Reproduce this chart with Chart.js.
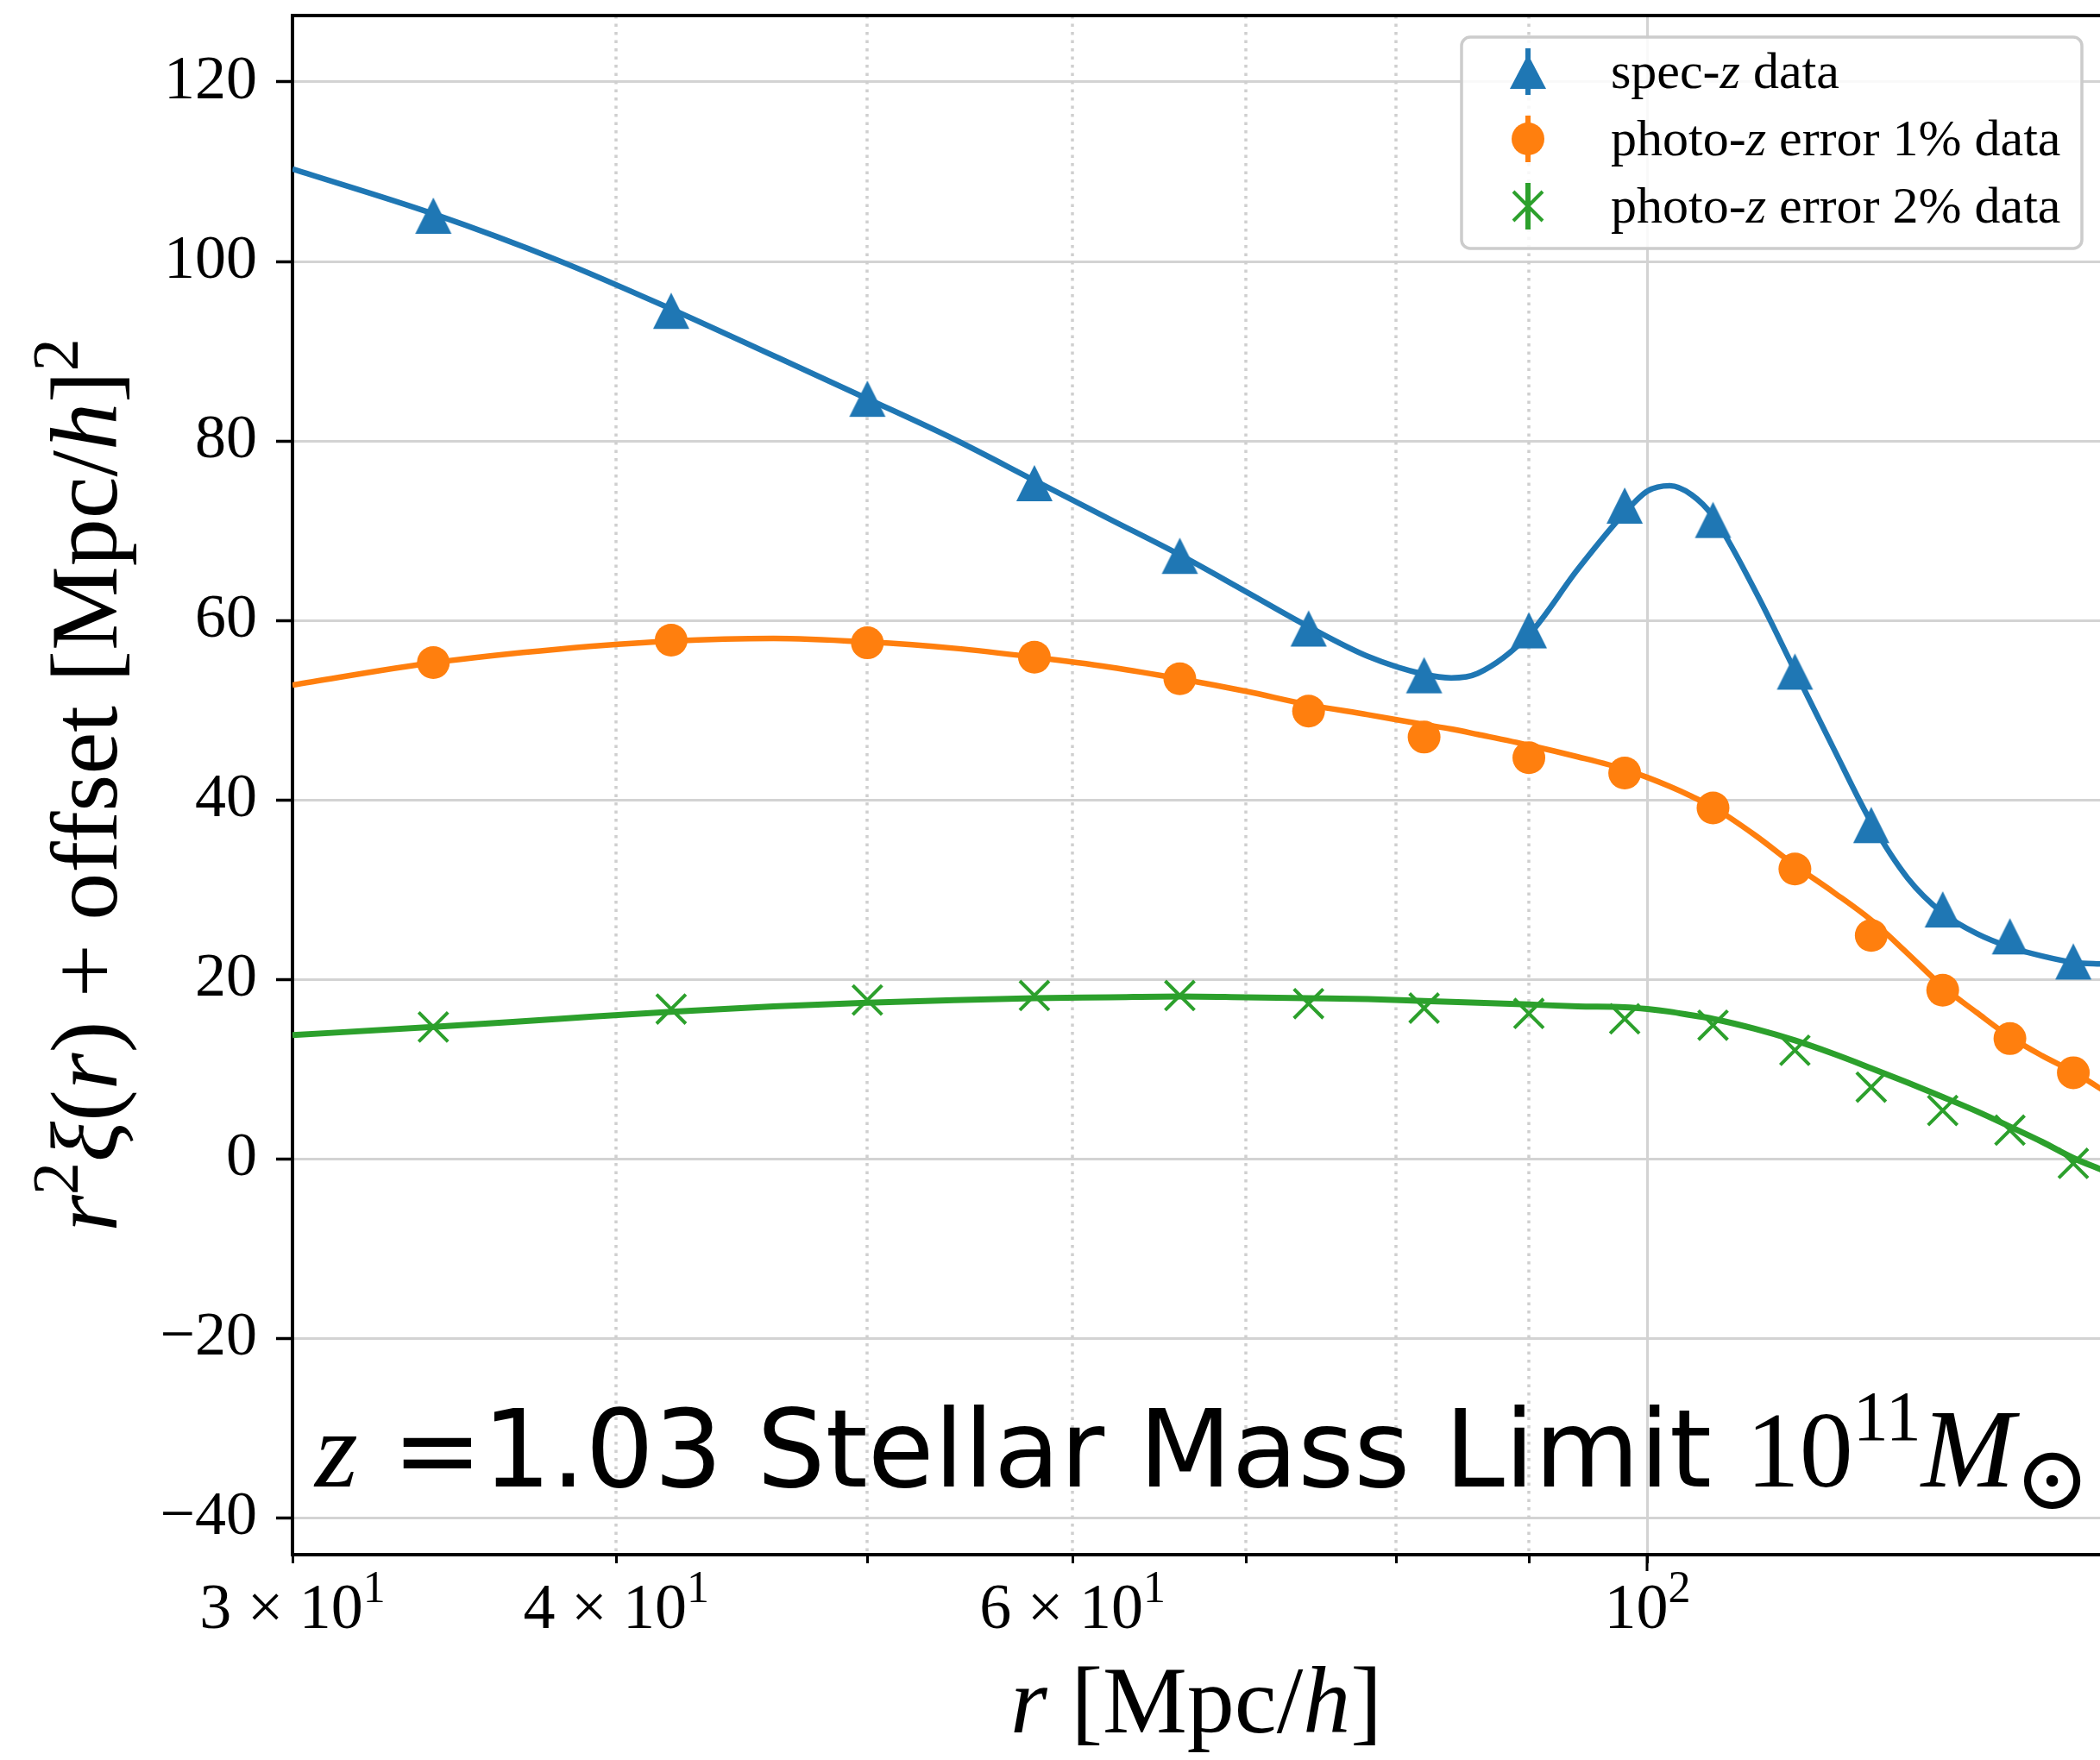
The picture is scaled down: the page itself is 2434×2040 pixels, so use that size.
<!DOCTYPE html>
<html>
<head>
<meta charset="utf-8">
<script src="https://cdn.jsdelivr.net/npm/chart.js@4.4.1/dist/chart.umd.min.js"></script>
<style>
  html, body { margin: 0; padding: 0; background: #fff; overflow: hidden; }
  canvas { display: block; }
</style>
</head>
<body>
<canvas id="xiChart" width="2434" height="2040"></canvas>
<script>
// measured points (r in Mpc/h)
const rData = [34, 42, 50, 58, 66, 74, 82, 90, 98, 106, 114, 122, 130, 138, 146];
const specData = [105.1, 94.5, 84.7, 75.3, 67.2, 59.1, 53.9, 58.9, 72.8, 71.2, 54.3, 37.2, 27.8, 24.8, 22.0];
const photo1Data = [55.3, 57.8, 57.5, 55.9, 53.5, 49.9, 47.0, 44.7, 43.0, 39.1, 32.3, 24.9, 18.8, 13.4, 9.6];
const photo2Data = [14.7, 16.7, 17.7, 18.2, 18.2, 17.3, 16.8, 16.2, 15.6, 14.9, 12.1, 8.0, 5.4, 3.2, -0.5];

// model curves
const rModel = [30, 34, 38, 42, 46, 50, 54, 58, 62, 66, 70, 74, 78, 82, 84, 86, 90, 94, 98, 100, 102, 104, 106, 110, 114, 118, 122, 126, 130, 134, 138, 142, 146, 150];
const specModel = [110.3, 105.3, 100.1, 94.7, 89.5, 84.7, 80.2, 75.6, 71.3, 67.3, 63.2, 59.3, 56.0, 54.0, 53.6, 54.1, 58.4, 65.7, 72.0, 74.4, 75.0, 74.0, 71.6, 63.4, 54.4, 45.7, 37.5, 31.3, 27.4, 25.1, 23.6, 22.6, 21.9, 21.7];
const photo1Model = [52.8, 55.3, 56.8, 57.7, 58.0, 57.6, 56.9, 55.9, 54.8, 53.5, 52.1, 50.6, 49.5, 48.4, 47.9, 47.3, 46.1, 44.8, 43.4, 42.5, 41.5, 40.4, 39.2, 36.1, 32.7, 29.7, 26.6, 22.9, 19.2, 16.3, 13.6, 11.5, 9.7, 7.6];
const photo2Model = [13.8, 14.7, 15.6, 16.4, 17.0, 17.4, 17.7, 17.9, 18.0, 18.1, 18.0, 17.9, 17.8, 17.6, 17.5, 17.4, 17.2, 17.0, 16.9, 16.7, 16.4, 16.0, 15.6, 14.5, 13.2, 11.7, 10.1, 8.5, 6.9, 5.3, 3.6, 1.9, 0.1, -1.3];

const xTickValues = [30, 40, 50, 60, 70, 80, 90, 100];
const xTickLabels = { 30: ["3 \u00d7 10", "1"], 40: ["4 \u00d7 10", "1"], 60: ["6 \u00d7 10", "1"], 100: ["10", "2"] };
const yTickValues = [-40, -20, 0, 20, 40, 60, 80, 100, 120];

const blue = "#1f77b4";
const orange = "#ff7f0e";
const green = "#2ca02c";
const gridGray = "#d3d3d3";
const serif = '"Liberation Serif", "DejaVu Serif", serif';
const sans = '"DejaVu Sans", sans-serif';

function toPoints(xs, ys) {
  return xs.map((x, i) => ({ x: x, y: ys[i] }));
}

// matplotlib-style "^" marker (width == height, centred on its box)
function triangleImage(size, color) {
  const c = document.createElement("canvas");
  c.width = size + 2;
  c.height = size + 2;
  const g = c.getContext("2d");
  g.fillStyle = color;
  g.beginPath();
  g.moveTo(c.width / 2, 1);
  g.lineTo(1, size + 1);
  g.lineTo(size + 1, size + 1);
  g.closePath();
  g.fill();
  return c;
}

function drawRuns(ctx, runs, x, y, align) {
  let total = 0;
  runs.forEach((r) => {
    ctx.font = r[1];
    total += ctx.measureText(r[0]).width;
  });
  let cur = align === "center" ? x - total / 2 : x;
  ctx.textAlign = "left";
  ctx.textBaseline = "alphabetic";
  runs.forEach((r) => {
    ctx.font = r[1];
    ctx.fillText(r[0], cur, y + (r[2] || 0));
    cur += ctx.measureText(r[0]).width;
  });
}

function drawLegendMarker(ctx, kind, x, y, color) {
  ctx.save();
  ctx.fillStyle = color;
  ctx.strokeStyle = color;
  ctx.fillRect(x - 3, y - 27, 6, 54);
  if (kind === "triangle") {
    ctx.beginPath();
    ctx.moveTo(x, y - 20);
    ctx.lineTo(x - 21, y + 20);
    ctx.lineTo(x + 21, y + 20);
    ctx.closePath();
    ctx.fill();
  } else if (kind === "circle") {
    ctx.beginPath();
    ctx.arc(x, y, 19, 0, Math.PI * 2);
    ctx.fill();
  } else {
    ctx.lineWidth = 4;
    ctx.beginPath();
    ctx.moveTo(x - 17, y - 17);
    ctx.lineTo(x + 17, y + 17);
    ctx.moveTo(x + 17, y - 17);
    ctx.lineTo(x - 17, y + 17);
    ctx.stroke();
  }
  ctx.restore();
}

function noPadding(scale) {
  scale.paddingTop = 0;
  scale.paddingBottom = 0;
  scale.paddingLeft = 0;
  scale.paddingRight = 0;
}

const decorations = {
  id: "decorations",
  beforeDatasetsDraw(chart) {
    const { ctx, chartArea } = chart;
    const xs = chart.scales.x;
    ctx.save();
    ctx.strokeStyle = "#cfcfcf";
    ctx.lineWidth = 3.5;
    ctx.setLineDash([3.5, 6]);
    xTickValues.filter((v) => v !== 30 && v !== 100).forEach((v) => {
      const px = Math.round(xs.getPixelForValue(v));
      ctx.beginPath();
      ctx.moveTo(px, chartArea.top);
      ctx.lineTo(px, chartArea.bottom);
      ctx.stroke();
    });
    ctx.restore();
  },
  afterDraw(chart) {
    const { ctx, chartArea } = chart;
    const xs = chart.scales.x;
    ctx.save();
    ctx.fillStyle = "#000";
    ctx.strokeStyle = "#000";

    // top spine
    ctx.lineWidth = 4;
    ctx.beginPath();
    ctx.moveTo(chartArea.left - 2, chartArea.top);
    ctx.lineTo(chartArea.right, chartArea.top);
    ctx.stroke();

    // longer major tick at 10^2
    ctx.lineWidth = 3;
    const p100 = Math.round(xs.getPixelForValue(100));
    ctx.beginPath();
    ctx.moveTo(p100, chartArea.bottom);
    ctx.lineTo(p100, chartArea.bottom + 19);
    ctx.stroke();

    // x tick labels
    Object.keys(xTickLabels).forEach((k) => {
      const lab = xTickLabels[k];
      drawRuns(ctx, [[lab[0], `74px ${serif}`], [lab[1], `52px ${serif}`, -30]], xs.getPixelForValue(+k), 1887, "center");
    });

    // x title
    drawRuns(ctx, [
      ["r", `italic 110px ${serif}`],
      [" [Mpc/", `110px ${serif}`],
      ["h", `italic 110px ${serif}`],
      ["]", `110px ${serif}`],
    ], (chartArea.left + chartArea.right) / 2, 2008, "center");

    // y title
    ctx.save();
    ctx.translate(135, (chartArea.top + chartArea.bottom) / 2);
    ctx.rotate(-Math.PI / 2);
    drawRuns(ctx, [
      ["r", `italic 110px ${serif}`],
      ["2", `76px ${serif}`, -45],
      ["\u03be", `italic 110px ${serif}`],
      ["(", `110px ${serif}`],
      ["r", `italic 110px ${serif}`],
      [") + offset [Mpc/", `110px ${serif}`],
      ["h", `italic 110px ${serif}`],
      ["]", `110px ${serif}`],
      ["2", `76px ${serif}`, -45],
    ], 0, 0, "center");
    ctx.restore();

    // annotation
    drawRuns(ctx, [
      ["z", `italic 128px ${serif}`],
      [" =1.03 Stellar Mass Limit ", `125px ${sans}`],
      ["10", `124px ${serif}`],
      ["11", `82px ${serif}`, -54],
      ["M", `italic 130px ${serif}`],
      ["\u2299", `104px ${serif}`, 26],
    ], 365, 1723, "left");

    // legend
    const box = { x: 1694, y: 43, w: 719, h: 245 };
    ctx.fillStyle = "rgba(255,255,255,0.85)";
    ctx.strokeStyle = "#cccccc";
    ctx.lineWidth = 3.5;
    ctx.beginPath();
    ctx.roundRect(box.x, box.y, box.w, box.h, 10);
    ctx.fill();
    ctx.stroke();
    const rows = [
      { kind: "triangle", color: blue, runs: [["spec-", 0], ["z", 1], [" data", 0]] },
      { kind: "circle", color: orange, runs: [["photo-", 0], ["z", 1], [" error 1% data", 0]] },
      { kind: "x", color: green, runs: [["photo-", 0], ["z", 1], [" error 2% data", 0]] },
    ];
    rows.forEach((row, i) => {
      drawLegendMarker(ctx, row.kind, 1771, 83 + i * 78, row.color);
      ctx.fillStyle = "#000";
      drawRuns(ctx, row.runs.map((r) => [r[0], (r[1] ? "italic " : "") + `60px ${serif}`]), 1867, 102 + i * 78, "left");
    });
    ctx.restore();
  },
};

function buildChart() {
  const canvas = document.getElementById("xiChart");
  return new Chart(canvas, {
    type: "scatter",
    data: {
      datasets: [
        {
          label: "spec-z data",
          data: toPoints(rData, specData),
          pointStyle: triangleImage(42, blue),
          pointRadius: 21,
          order: 1,
        },
        {
          label: "photo-z error 1% data",
          data: toPoints(rData, photo1Data),
          pointStyle: "circle",
          pointRadius: 19,
          pointBackgroundColor: orange,
          pointBorderWidth: 0,
          order: 1,
        },
        {
          label: "photo-z error 2% data",
          data: toPoints(rData, photo2Data),
          pointStyle: "crossRot",
          pointRadius: 24,
          pointBorderColor: green,
          pointBorderWidth: 4,
          order: 1,
        },
        {
          label: "spec-z model",
          data: toPoints(rModel, specModel),
          showLine: true,
          pointRadius: 0,
          borderColor: blue,
          borderWidth: 6.5,
          cubicInterpolationMode: "monotone",
          order: 2,
        },
        {
          label: "photo-z 1% model",
          data: toPoints(rModel, photo1Model),
          showLine: true,
          pointRadius: 0,
          borderColor: orange,
          borderWidth: 6.5,
          cubicInterpolationMode: "monotone",
          order: 2,
        },
        {
          label: "photo-z 2% model",
          data: toPoints(rModel, photo2Model),
          showLine: true,
          pointRadius: 0,
          borderColor: green,
          borderWidth: 7,
          cubicInterpolationMode: "monotone",
          order: 2,
        },
      ],
    },
    options: {
      responsive: false,
      animation: false,
      devicePixelRatio: 1,
      events: [],
      layout: { autoPadding: false, padding: { top: 18, right: 0, bottom: 0, left: 0 } },
      plugins: { legend: { display: false }, tooltip: { enabled: false } },
      scales: {
        x: {
          type: "logarithmic",
          min: 30,
          max: 149.5,
          afterFit: (scale) => { scale.height = 238; noPadding(scale); },
          afterBuildTicks: (scale) => { scale.ticks = xTickValues.map((v) => ({ value: v })); },
          ticks: { display: false, autoSkip: false },
          grid: {
            color: (c) => (c.tick && c.tick.value === 100 ? gridGray : "rgba(0,0,0,0)"),
            lineWidth: 3,
            tickColor: "#000",
            tickLength: 10,
            tickWidth: 3,
          },
          border: { color: "#000", width: 4 },
        },
        y: {
          min: -44.1,
          max: 127.4,
          afterFit: (scale) => { scale.width = 339; noPadding(scale); },
          afterBuildTicks: (scale) => { scale.ticks = yTickValues.map((v) => ({ value: v })); },
          ticks: {
            color: "#000",
            padding: 22,
            font: { family: serif, size: 72 },
            callback: (v) => (v < 0 ? "\u2212" + Math.abs(v) : String(v)),
          },
          grid: {
            color: gridGray,
            lineWidth: 3,
            tickColor: "#000",
            tickLength: 19,
            tickWidth: 3.5,
          },
          border: { color: "#000", width: 4 },
        },
      },
    },
    plugins: [decorations],
  });
}

window.addEventListener("DOMContentLoaded", () => {
  buildChart();
});
</script>
</body>
</html>
